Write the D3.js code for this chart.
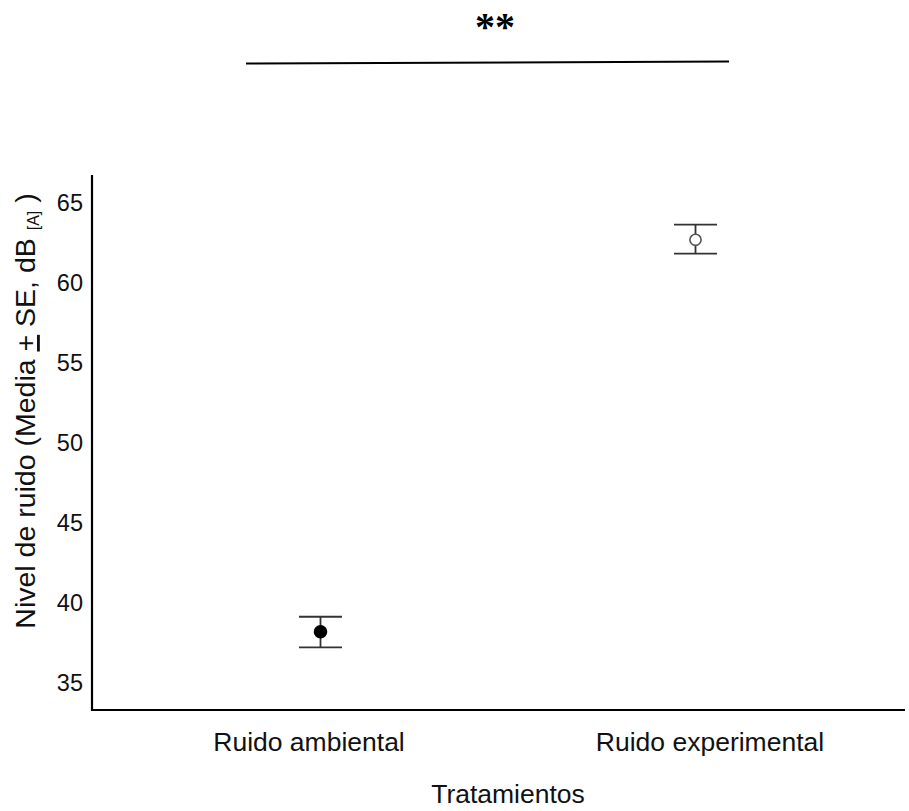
<!DOCTYPE html>
<html>
<head>
<meta charset="utf-8">
<script src="https://cdn.jsdelivr.net/npm/d3@7"></script>
<style>
  html, body { margin: 0; padding: 0; background: #fff; }
  svg { display: block; font-family: "Liberation Sans", Arial, sans-serif; }
</style>
</head>
<body>
<svg id="chart" width="909" height="811"></svg>
<script>
// Noise level per treatment (mean ± SE, dB[A])
const categories = ["Ruido ambiental", "Ruido experimental"];
const means = [38.2, 62.7];
const seLow = [0.98, 0.86];
const seHigh = [0.94, 0.95];
const filled = [true, false];
const yTicks = [35, 40, 45, 50, 55, 60, 65];
const significance = "**";

const svg = d3.select("#chart");

const x = d3.scalePoint()
  .domain(categories)
  .range([133, 883])
  .padding(0.5);

const y = d3.scaleLinear()
  .domain([33.31, 66.75])
  .range([710, 175]);

// Axes: plain lines, no tick marks
const yAxis = svg.append("g")
  .attr("transform", "translate(92,0)")
  .call(d3.axisLeft(y).tickValues(yTicks).tickSize(0).tickPadding(9));
yAxis.select(".domain").remove();
yAxis.selectAll("text")
  .attr("font-size", 23.5)
  .attr("font-family", "Liberation Sans, Arial, sans-serif")
  .attr("fill", "#111");

// category labels sit a little off the marker centres
const labelShift = [-12, 14];
const xAxis = svg.append("g")
  .attr("transform", "translate(0,710)")
  .call(d3.axisBottom(x).tickSize(0).tickPadding(22));
xAxis.select(".domain").remove();
xAxis.selectAll("text")
  .attr("font-size", 26.5)
  .attr("font-family", "Liberation Sans, Arial, sans-serif")
  .attr("fill", "#111")
  .attr("dx", (d, i) => labelShift[i]);

svg.append("path")
  .attr("d", d3.line()([[92, 175], [92, 710], [905, 710]]))
  .attr("fill", "none")
  .attr("stroke", "#000")
  .attr("stroke-width", 2.2);

// Error bars
const data = categories.map((c, i) => ({
  cat: c, mean: means[i], lo: means[i] - seLow[i], hi: means[i] + seHigh[i], filled: filled[i]
}));

const g = svg.append("g").attr("stroke", "#333").attr("stroke-width", 1.8);
g.selectAll(".stem").data(data).join("line")
  .attr("x1", d => x(d.cat)).attr("x2", d => x(d.cat))
  .attr("y1", d => y(d.hi)).attr("y2", d => y(d.lo));
g.selectAll(".capHi").data(data).join("line")
  .attr("x1", d => x(d.cat) - 21.5).attr("x2", d => x(d.cat) + 21.5)
  .attr("y1", d => y(d.hi)).attr("y2", d => y(d.hi));
g.selectAll(".capLo").data(data).join("line")
  .attr("x1", d => x(d.cat) - 21.5).attr("x2", d => x(d.cat) + 21.5)
  .attr("y1", d => y(d.lo)).attr("y2", d => y(d.lo));

svg.selectAll(".pt").data(data).join("circle")
  .attr("cx", d => x(d.cat))
  .attr("cy", d => y(d.mean))
  .attr("r", d => d.filled ? 6 : 5.6)
  .attr("fill", d => d.filled ? "#000" : "#fff")
  .attr("stroke", d => d.filled ? "#000" : "#555")
  .attr("stroke-width", 1.6);

// Axis titles
svg.append("text")
  .attr("x", 508).attr("y", 803)
  .attr("text-anchor", "middle")
  .attr("font-size", 26.5)
  .attr("fill", "#111")
  .text("Tratamientos");

const yl = svg.append("text")
  .attr("transform", "translate(35,411) rotate(-90)")
  .attr("text-anchor", "middle")
  .attr("font-size", 28.5)
  .attr("fill", "#111");
yl.append("tspan").text("Nivel de ruido (Media ");
yl.append("tspan").attr("text-decoration", "underline").text("+");
yl.append("tspan").text(" SE, dB ");
yl.append("tspan").attr("font-size", 16).attr("dy", 4).text("[A]");
yl.append("tspan").attr("dy", -4).text(" )");

// Significance bracket
svg.append("line")
  .attr("x1", 246).attr("y1", 63.5)
  .attr("x2", 729).attr("y2", 61.5)
  .attr("stroke", "#000")
  .attr("stroke-width", 2);
svg.append("text")
  .attr("x", 495).attr("y", 40)
  .attr("text-anchor", "middle")
  .attr("font-size", 40)
  .attr("font-weight", "bold")
  .attr("font-family", "Liberation Serif, serif")
  .attr("fill", "#000")
  .text(significance);
</script>
</body>
</html>
